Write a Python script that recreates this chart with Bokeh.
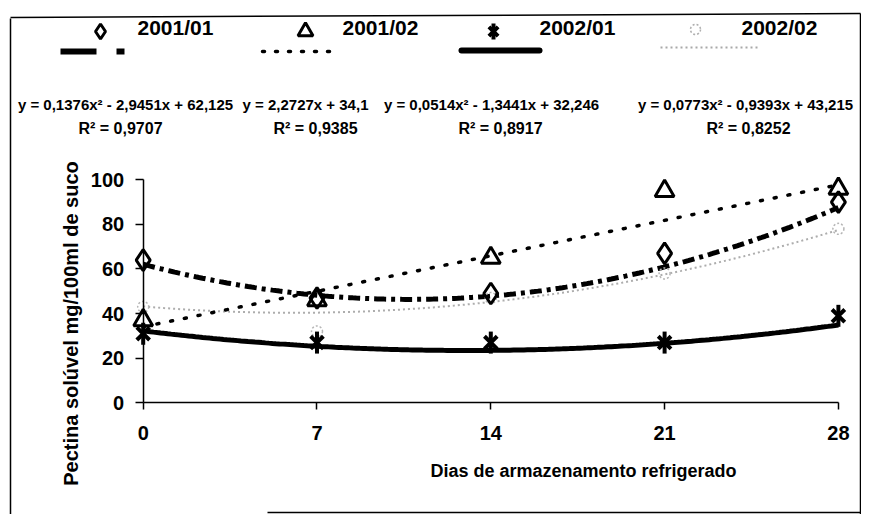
import numpy as np
from bokeh.plotting import figure
from bokeh.models import Range1d, LinearAxis, FixedTicker
from bokeh.core.properties import value
from bokeh.embed import file_html
from bokeh.resources import INLINE

# ---------------- data ----------------
days = [0, 7, 14, 21, 28]
s2001_01 = [64, 47, 49, 67, 90]
s2001_02 = [37, 46, 65, 95, 96]
s2002_01 = [31, 27, 27, 27, 39]
s2002_02 = [43, 32, 47, 58, 78]
series_names = ["2001/01", "2001/02", "2002/01", "2002/02"]

# trendline coefficients (a x^2 + b x + c) as printed on the chart
coef_2001_01 = [0.1376, -2.9451, 62.125]
coef_2001_02 = [0.0, 2.2727, 34.1]
coef_2002_01 = [0.0514, -1.3441, 32.246]
coef_2002_02 = [0.0773, -0.9393, 43.215]

equations = ["y = 0,1376x² - 2,9451x + 62,125",
             "y = 2,2727x + 34,1",
             "y = 0,0514x² - 1,3441x + 32,246",
             "y = 0,0773x² - 0,9393x + 43,215"]
r2_labels = ["R² = 0,9707", "R² = 0,9385", "R² = 0,8917", "R² = 0,8252"]

x_ticks = [0, 7, 14, 21, 28]
y_ticks = [0, 20, 40, 60, 80, 100]
x_title = "Dias de armazenamento refrigerado"
y_title = "Pectina solúvel mg/100ml de suco"

FONT = value("Liberation Sans")
W, H = 861, 514

p = figure(width=W, height=H,
           x_range=Range1d(-5.747, 28.93), y_range=Range1d(-50.09, 180.40),
           output_backend="svg", toolbar_location=None,
           x_axis_location=None, y_axis_location=None,
           min_border=0, outline_line_color=None,
           background_fill_color="white", border_fill_color="white")
for g in list(p.center):
    g.visible = False

# pixel-like ranges for layout items (y downward)
p.extra_x_ranges = {"px": Range1d(0, W)}
p.extra_y_ranges = {"px": Range1d(H, 0)}
PX = dict(x_range_name="px", y_range_name="px")

# ---------------- axes ----------------
axis_style = dict(axis_line_width=1.5, axis_line_color="black",
                  major_tick_line_width=1.5, major_tick_line_color="black",
                  major_tick_in=0, minor_tick_in=0, minor_tick_out=0,
                  major_label_text_font="Liberation Sans",
                  major_label_text_font_size="20px",
                  major_label_text_font_style="bold",
                  major_label_text_color="black")
xaxis = LinearAxis(fixed_location=0, bounds=(0, 28), ticker=FixedTicker(ticks=x_ticks),
                   major_tick_out=7, major_label_standoff=16, **axis_style)
yaxis = LinearAxis(fixed_location=0, bounds=(0, 100), ticker=FixedTicker(ticks=y_ticks),
                   major_tick_out=8, major_label_standoff=11, **axis_style)
p.add_layout(xaxis, "below")
p.add_layout(yaxis, "left")

# ---------------- trendlines ----------------
xs = np.linspace(0, 28, 200)
def trend(c):
    return c[0] * xs ** 2 + c[1] * xs + c[2]

p.line(xs, trend(coef_2002_02), line_color="#adadad", line_width=2, line_dash="2 3")
p.line(xs, trend(coef_2002_01), line_color="black", line_width=5)
p.line(xs, trend(coef_2001_02), line_color="black", line_width=3.5, line_dash="2 12", line_cap="round")
p.line(xs, trend(coef_2001_01), line_color="black", line_width=5, line_dash="12 5 4 5")

# ---------------- markers ----------------
p.scatter(days, s2002_02, marker="circle", size=11, fill_color=None,
          line_color="#b5b5b5", line_width=1.5, line_dash="2 2")
p.scatter(days, s2001_01, marker="diamond", size=21, fill_color=None,
          line_color="black", line_width=3)
p.scatter(days, s2001_02, marker="triangle", size=19, fill_color=None,
          line_color="black", line_width=3)
p.scatter(days, s2002_01, marker="x", size=18, line_color="black", line_width=4)
p.scatter(days, s2002_01, marker="dash", size=22, angle=np.pi / 2,
          line_color="black", line_width=4)

# ---------------- legend (top) ----------------
leg_mx = [100, 305, 493, 695]
leg_my = [31, 31, 31, 29]
p.scatter([leg_mx[0]], [leg_my[0]], marker="diamond", size=15, fill_color=None,
          line_color="black", line_width=3, **PX)
p.scatter([leg_mx[1]], [leg_my[1]], marker="triangle", size=15, fill_color=None,
          line_color="black", line_width=3, **PX)
p.scatter([leg_mx[2]], [leg_my[2]], marker="x", size=13, line_color="black", line_width=4, **PX)
p.scatter([leg_mx[2]], [leg_my[2]], marker="dash", size=16, angle=np.pi / 2,
          line_color="black", line_width=4, **PX)
p.scatter([leg_mx[3]], [leg_my[3]], marker="circle", size=10, fill_color=None,
          line_color="#b0b0b0", line_width=1.5, line_dash="2 2", **PX)
p.text([137, 342, 539, 741], [27, 27, 27, 27], text=series_names,
       text_font=FONT, text_font_style="bold", text_font_size="21px",
       text_align="left", text_baseline="middle", text_color="black", **PX)

p.line([60, 126], [51, 51], line_color="black", line_width=6, line_dash="36 20 8 20", **PX)
p.line([262, 339], [51, 51], line_color="black", line_width=3.5, line_dash="2 11",
       line_cap="round", **PX)
p.line([461, 539], [50, 50], line_color="black", line_width=6, line_cap="round", **PX)
p.line([660, 757], [47, 47], line_color="#a8a8a8", line_width=2, line_dash="2 3", **PX)

# ---------------- equations ----------------
p.text([125, 305, 491, 745], [104, 104, 104, 104], text=equations,
       text_font=FONT, text_font_style="bold", text_font_size="15px",
       text_align="center", text_baseline="middle", text_color="black", **PX)
p.text([120, 315, 500, 748], [128, 128, 128, 128], text=r2_labels,
       text_font=FONT, text_font_style="bold", text_font_size="16px",
       text_align="center", text_baseline="middle", text_color="black", **PX)

# ---------------- axis titles ----------------
p.text([583], [470], text=[x_title], text_font=FONT, text_font_style="bold",
       text_font_size="18px", text_align="center", text_baseline="middle",
       text_color="black", **PX)
p.text([70], [323], text=[y_title], text_font=FONT, text_font_style="bold",
       text_font_size="20px", text_align="center", text_baseline="middle",
       angle=np.pi / 2, text_color="black", **PX)

# ---------------- border ----------------
p.segment(x0=[10, 10, 860, 267], y0=[18, 17, 13, 512],
          x1=[10, 860, 860, 860], y1=[514, 13, 514, 512],
          line_color="black", line_width=1.5, **PX)

open("out.html", "w").write(file_html(p, INLINE))
